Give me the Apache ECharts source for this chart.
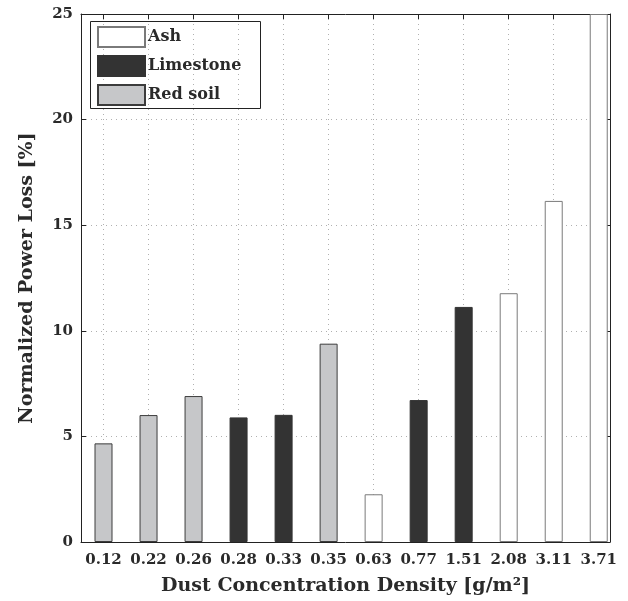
<!DOCTYPE html>
<html>
<head>
<meta charset="utf-8">
<script src="https://cdn.jsdelivr.net/npm/echarts@6/dist/echarts.min.js"></script>
<style>
  html, body { margin: 0; padding: 0; background: #fff; }
  #chart { width: 628px; height: 601px; }
</style>
</head>
<body>
<div id="chart"></div>
<script>
// Dust concentration density [g/m²] for each test, in plotted order
const categories = ['0.12', '0.22', '0.26', '0.28', '0.33', '0.35', '0.63', '0.77', '1.51', '2.08', '3.11', '3.71'];
// Normalized power loss [%] per test
const powerLoss = [4.67, 6.01, 6.91, 5.90, 6.02, 9.39, 2.26, 6.72, 11.13, 11.78, 16.15, 25];
// Dust type used in each test
const dustType = ['Red soil', 'Red soil', 'Red soil', 'Limestone', 'Limestone', 'Red soil',
                  'Ash', 'Limestone', 'Limestone', 'Ash', 'Ash', 'Ash'];
const typeNames = ['Ash', 'Limestone', 'Red soil'];
const yTicks = [0, 5, 10, 15, 20, 25];

const typeStyle = {
  'Ash':       { color: '#ffffff', borderColor: '#7a7a7a' },
  'Limestone': { color: '#333333', borderColor: '#333333' },
  'Red soil':  { color: '#c6c7c9', borderColor: '#3c3c3c' }
};

const positions = categories.map((_, i) => i + 1);
const serif = '"DejaVu Serif", "Liberation Serif", serif';
const ink = '#2a2a2a';

const series = typeNames.map(name => ({
  name: name,
  type: 'bar',
  barWidth: 18,
  barGap: '-100%',
  itemStyle: { color: typeStyle[name].color, borderColor: typeStyle[name].borderColor, borderWidth: 1 },
  data: positions.filter((_, i) => dustType[i] === name).map(p => [p, powerLoss[p - 1]])
}));

const gridLine = { show: true, lineStyle: { color: '#b0b0b0', type: [1, 4], width: 1 } };

const chart = echarts.init(document.getElementById('chart'), null, { renderer: 'canvas' });
chart.setOption({
  animation: false,
  backgroundColor: '#ffffff',
  grid: { left: 81, right: 18, top: 14, bottom: 59, outerBoundsMode: 'none', containLabel: false },
  legend: {
    data: typeNames,
    orient: 'vertical',
    left: 97, top: 26,
    itemWidth: 47, itemHeight: 20, itemGap: 7,
    padding: 0,
    icon: 'rect',
    textStyle: { fontFamily: serif, fontWeight: 'bold', fontSize: 16, color: ink, padding: [0, 0, 0, -2] }
  },
  graphic: [{
    type: 'rect', left: 88, top: 19, z: 100, silent: true,
    shape: { width: 170, height: 87 },
    style: { fill: 'none', stroke: '#222', lineWidth: 1 }
  }],
  xAxis: [{
    type: 'value', min: 0.5, max: 12.25, position: 'bottom',
    name: 'Dust Concentration Density [g/m²]',
    nameLocation: 'middle', nameGap: 35, nameMoveOverlap: false,
    nameTextStyle: { fontFamily: serif, fontWeight: 'bold', fontSize: 19, color: ink },
    axisLine: { show: true, onZero: false, lineStyle: { color: '#222', width: 1 } },
    axisTick: { show: true, inside: true, length: 5, customValues: positions, lineStyle: { color: '#222' } },
    axisLabel: {
      customValues: positions, margin: 11,
      formatter: v => categories[Math.round(v) - 1] || '',
      fontFamily: serif, fontWeight: 'bold', fontSize: 15, color: ink
    },
    splitLine: gridLine
  }, {
    type: 'value', min: 0.5, max: 12.25, position: 'top',
    axisLine: { show: true, onZero: false, lineStyle: { color: '#222', width: 1 } },
    axisTick: { show: true, inside: true, length: 5, customValues: positions, lineStyle: { color: '#222' } },
    axisLabel: { show: false },
    splitLine: { show: false }
  }],
  yAxis: [{
    type: 'value', min: 0, max: 25, interval: 5, position: 'left',
    name: 'Normalized Power Loss [%]',
    nameLocation: 'middle', nameGap: 44, nameMoveOverlap: false,
    nameTextStyle: { fontFamily: serif, fontWeight: 'bold', fontSize: 19, color: ink },
    axisLine: { show: true, onZero: false, lineStyle: { color: '#222', width: 1 } },
    axisTick: { show: true, inside: true, length: 5, customValues: yTicks, lineStyle: { color: '#222' } },
    axisLabel: { customValues: yTicks, margin: 8, fontFamily: serif, fontWeight: 'bold', fontSize: 15, color: ink },
    splitLine: gridLine
  }, {
    type: 'value', min: 0, max: 25, interval: 5, position: 'right',
    axisLine: { show: true, onZero: false, lineStyle: { color: '#222', width: 1 } },
    axisTick: { show: true, inside: true, length: 5, lineStyle: { color: '#222' } },
    axisLabel: { show: false },
    splitLine: { show: false }
  }],
  series: series
});
</script>
</body>
</html>
